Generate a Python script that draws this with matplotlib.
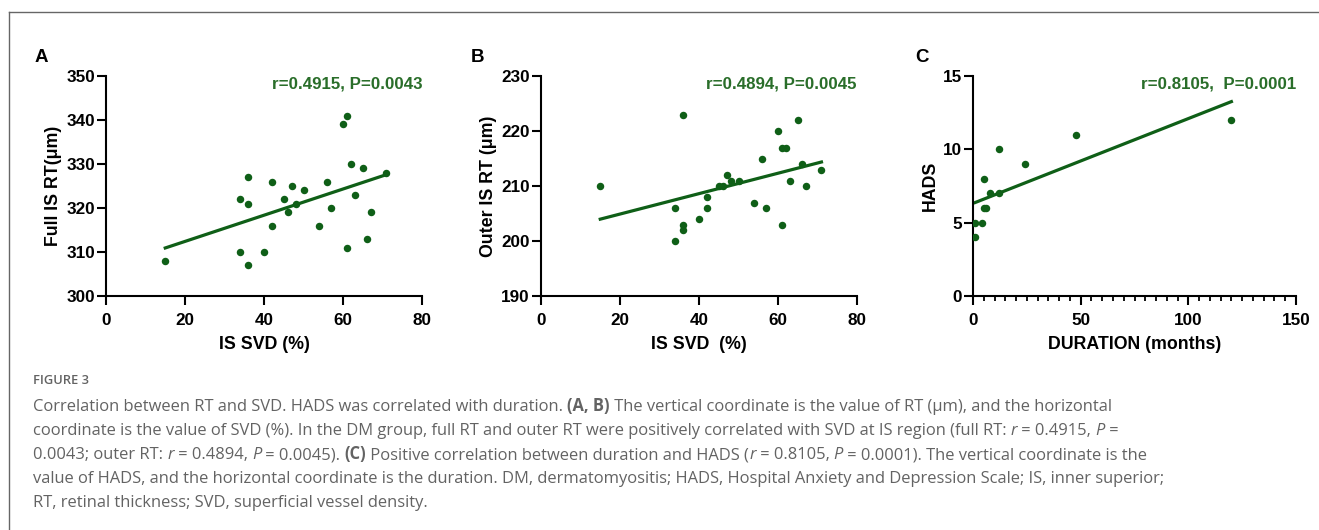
import numpy as np
import matplotlib
matplotlib.use("Agg")
import matplotlib.pyplot as plt
from matplotlib.lines import Line2D

# Panel A: IS SVD (%) vs full IS RT (um)
svd_a = [15, 34, 34, 36, 36, 36, 40, 42, 42, 45, 46, 47, 48, 50, 54, 56, 57,
         60, 61, 62, 61, 63, 65, 66, 67, 71]
rt_full = [308, 310, 322, 327, 321, 307, 310, 326, 316, 322, 319, 325, 321, 324,
           316, 326, 320, 339, 341, 330, 311, 323, 329, 313, 319, 328]

# Panel B: IS SVD (%) vs outer IS RT (um)
svd_b = [15, 34, 34, 36, 36, 36, 40, 42, 42, 45, 46, 47, 48, 50, 54, 56, 57,
         60, 61, 62, 61, 63, 65, 66, 67, 71]
rt_outer = [210, 206, 200, 223, 203, 202, 204, 208, 206, 210, 210, 212, 211, 211,
            207, 215, 206, 220, 217, 217, 203, 211, 222, 214, 210, 213]

# Panel C: duration (months) vs HADS
duration = [1, 1, 4, 5, 5, 6, 8, 12, 12, 24, 48, 120]
hads = [4, 5, 5, 8, 6, 6, 7, 10, 7, 9, 11, 12]

stats = ["r=0.4915, P=0.0043", "r=0.4894, P=0.0045", "r=0.8105,  P=0.0001"]

GREEN = "#0f5f17"
TXT_GREEN = "#2a6e2a"
FONT = ["Liberation Sans", "DejaVu Sans"]

W, H = 1319, 530
fig = plt.figure(figsize=(W / 100, H / 100), dpi=100)


def panel(rect, x, y, xlim, ylim, xticks, yticks, xlabel, ylabel, stat, letter, minor=None):
    ax = fig.add_axes([rect[0] / W, 1 - rect[3] / H, (rect[2] - rect[0]) / W, (rect[3] - rect[1]) / H])
    ax.scatter(x, y, s=29, color=GREEN, zorder=3, linewidths=0)
    k, b = np.polyfit(x, y, 1)
    xs = np.array([min(x), max(x)])
    ax.plot(xs, k * xs + b, color=GREEN, lw=2.3, zorder=2)
    ax.set_xlim(xlim)
    ax.set_ylim(ylim)
    ax.set_xticks(xticks)
    ax.set_yticks(yticks)
    if minor is not None:
        ax.set_xticks(minor, minor=True)
    for s in ["top", "right"]:
        ax.spines[s].set_visible(False)
    for s in ["left", "bottom"]:
        ax.spines[s].set_linewidth(1.5)
    ax.tick_params(which="major", length=6.5, width=1.5, labelsize=12.3, direction="out")
    ax.tick_params(axis="x", which="major", pad=5.5)
    ax.tick_params(axis="y", which="major", pad=1.5)
    ax.tick_params(which="minor", length=3.5, width=1.3, direction="out")
    for lab in ax.get_xticklabels() + ax.get_yticklabels():
        lab.set_fontweight("bold")
        lab.set_family(FONT)
    ax.set_xlabel(xlabel, fontsize=12.8, fontweight="bold", family=FONT, labelpad=6)
    ax.set_ylabel(ylabel, fontsize=12.8, fontweight="bold", family=FONT, labelpad=3)
    ax.text(1.0, 0.965, stat, transform=ax.transAxes, ha="right", va="center",
            color=TXT_GREEN, fontsize=12.2, fontweight="bold", family=FONT)
    fig.text(letter[0] / W, 1 - letter[1] / H, letter[2], fontsize=13.5, fontweight="bold",
             family=FONT, ha="center", va="center")
    return ax


panel((106, 76, 422, 296), svd_a, rt_full, (0, 80), (300, 350), [0, 20, 40, 60, 80],
      [300, 310, 320, 330, 340, 350], "IS SVD (%)", "Full IS RT(μm)", stats[0], (41, 58, "A"))
panel((541, 76, 857, 296), svd_b, rt_outer, (0, 80), (190, 230), [0, 20, 40, 60, 80],
      [190, 200, 210, 220, 230], "IS SVD  (%)", "Outer IS RT (μm)", stats[1], (477, 58, "B"))
panel((973, 76, 1296, 296), duration, hads, (0, 150), (0, 15), [0, 50, 100, 150],
      [0, 5, 10, 15], "DURATION (months)", "HADS", stats[2], (922, 58, "C"),
      minor=np.arange(0, 151, 5))

# frame around figure
fig.add_artist(Line2D([9 / W, 1.0], [1 - 12 / H, 1 - 12 / H], transform=fig.transFigure,
                      color="#666666", lw=1.0))
fig.add_artist(Line2D([9 / W, 9 / W], [0, 1 - 12 / H], transform=fig.transFigure,
                      color="#666666", lw=1.0))

# caption
cap = fig.add_axes([0, 0, 1, 1])
cap.axis("off")
cap.set_xlim(0, W)
cap.set_ylim(H, 0)
CAP_FONT = ["Open Sans", "DejaVu Sans"]
CAP_COL = "#636363"
cap.text(33, 381, "FIGURE 3", fontsize=9.3, color=CAP_COL, family=CAP_FONT,
         fontweight="semibold", va="center")

N, B, I = "normal", "bold", "italic"
lines = [
    [("Correlation between RT and SVD. HADS was correlated with duration. ", N), ("(A, B)", B),
     (" The vertical coordinate is the value of RT (μm), and the horizontal", N)],
    [("coordinate is the value of SVD (%). In the DM group, full RT and outer RT were positively "
      "correlated with SVD at IS region (full RT: ", N), ("r", I), (" = 0.4915, ", N), ("P", I), (" =", N)],
    [("0.0043; outer RT: ", N), ("r", I), (" = 0.4894, ", N), ("P", I), (" = 0.0045). ", N), ("(C)", B),
     (" Positive correlation between duration and HADS (", N), ("r", I), (" = 0.8105, ", N), ("P", I),
     (" = 0.0001). The vertical coordinate is the", N)],
    [("value of HADS, and the horizontal coordinate is the duration. DM, dermatomyositis; HADS, "
      "Hospital Anxiety and Depression Scale; IS, inner superior;", N)],
    [("RT, retinal thickness; SVD, superficial vessel density.", N)],
]
line_y = [411, 435, 459, 483, 507]
for parts, yy in zip(lines, line_y):
    t = None
    for s, kind in parts:
        kw = dict(fontsize=11.9, color=CAP_COL, family=CAP_FONT,
                  fontweight="bold" if kind == B else "normal",
                  fontstyle="italic" if kind == I else "normal")
        if t is None:
            t = cap.text(33, yy, s, va="baseline", ha="left", **kw)
        else:
            t = cap.annotate(s, xy=(1, 0), xycoords=t, va="bottom", ha="left", **kw)

fig.savefig("out.png", dpi=100)
